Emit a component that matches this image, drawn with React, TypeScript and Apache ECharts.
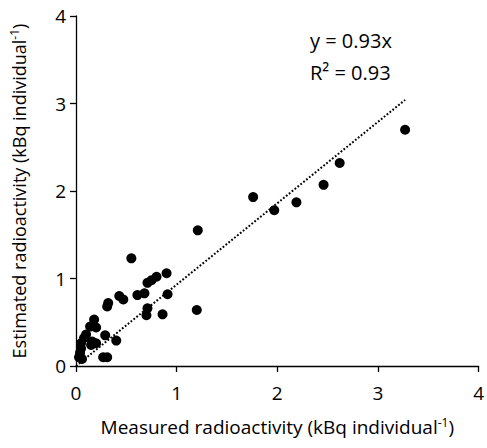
import React, { useEffect, useRef } from "react";
import * as echarts from "echarts";

const measured = [0.03, 0.04, 0.05, 0.06, 0.05, 0.08, 0.10, 0.14, 0.18, 0.20, 0.15, 0.20, 0.16, 0.29, 0.40, 0.27, 0.31, 0.31, 0.32, 0.43, 0.47, 0.55, 0.61, 0.68, 0.71, 0.75, 0.80, 0.90, 0.91, 0.71, 0.70, 0.86, 1.20, 1.21, 1.76, 1.97, 2.19, 2.46, 2.62, 3.27];
const estimated = [0.10, 0.15, 0.20, 0.08, 0.26, 0.32, 0.36, 0.45, 0.53, 0.44, 0.24, 0.26, 0.28, 0.35, 0.29, 0.10, 0.10, 0.68, 0.72, 0.80, 0.76, 1.23, 0.81, 0.83, 0.95, 0.98, 1.02, 1.06, 0.82, 0.66, 0.58, 0.59, 0.64, 1.55, 1.93, 1.78, 1.87, 2.07, 2.32, 2.70];
const slope = 0.93;
const rSquared = 0.93;
const trendX = [0, 3.27];
const axisTicks = [0, 1, 2, 3, 4];

const FONT = "Open Sans";

export default function App() {
  const ref = useRef<HTMLDivElement>(null);
  useEffect(() => {
    if (!ref.current) return;
    const chart = echarts.init(ref.current, null, { renderer: "svg" });
    const points = measured.map((m, i) => [m, estimated[i]]);
    const trend = trendX.map((x) => [x, slope * x]);
    const axisCommon = {
      type: "value",
      min: axisTicks[0],
      max: axisTicks[axisTicks.length - 1],
      interval: 1,
      splitLine: { show: false },
      axisLine: { show: true, lineStyle: { color: "#000", width: 1.3 } },
      axisTick: { show: true, inside: false, length: 6, lineStyle: { color: "#000", width: 1.3 } },
      nameLocation: "middle",
    };
    const rich = (size: number) => ({
      a: { fontFamily: FONT, fontSize: size, color: "#000" },
      sup: { fontFamily: FONT, fontSize: Math.round(size * 0.65), color: "#000", verticalAlign: "top", padding: [0, 0, 9, 0] },
    });
    chart.setOption({
      animation: false,
      backgroundColor: "#fff",
      grid: { left: 73.5, right: 5.5, top: 16, bottom: 82, containLabel: false },
      xAxis: {
        ...axisCommon,
        name: "{a|Measured radioactivity (kBq individual}{sup|-1}{a|)}",
        nameGap: 50,
        nameTextStyle: { rich: rich(19) },
        axisLabel: { fontFamily: FONT, fontSize: 19, color: "#000", margin: 17 },
      },
      yAxis: {
        ...axisCommon,
        name: "{a|Estimated radioactivity (kBq individual}{sup|-1}{a|)}",
        nameGap: 47,
        nameTextStyle: { rich: rich(18) },
        axisLabel: { fontFamily: FONT, fontSize: 19, color: "#000", margin: 10 },
      },
      series: [
        {
          type: "line",
          data: trend,
          symbol: "none",
          lineStyle: { color: "#000", width: 2, type: [1.8, 1.9] },
          z: 1,
        },
        {
          type: "scatter",
          data: points,
          symbol: "circle",
          symbolSize: 10,
          itemStyle: { color: "#000", opacity: 1 },
          z: 2,
        },
      ],
      graphic: [
        {
          type: "text",
          left: 310,
          top: 30,
          style: { text: `y = ${slope.toFixed(2)}x`, fontFamily: FONT, fontSize: 20, fill: "#000" },
        },
        {
          type: "text",
          left: 310,
          top: 62,
          style: { text: `R² = ${rSquared.toFixed(2)}`, fontFamily: FONT, fontSize: 20, fill: "#000" },
        },
      ],
    });
    return () => chart.dispose();
  }, []);
  return <div ref={ref} style={{ position: "absolute", left: 0, top: 0, width: 487, height: 448 }} />;
}
